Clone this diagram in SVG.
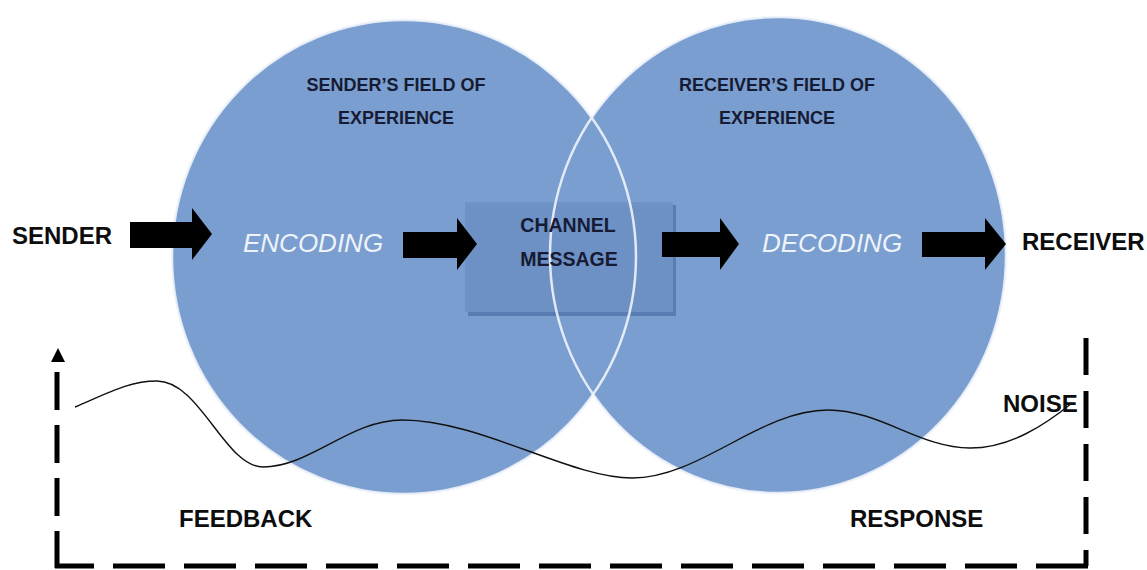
<svg xmlns="http://www.w3.org/2000/svg" width="1147" height="570" viewBox="0 0 1147 570">
<style>
.field{fill:#7a9ecf}
.rim{fill:none;stroke:#eef3fb;stroke-width:2.5;opacity:.9}
.title{font-family:"Liberation Sans",Arial,sans-serif;font-weight:bold;font-size:18px;fill:#161b33;text-anchor:middle}
.box{font-family:"Liberation Sans",Arial,sans-serif;font-weight:bold;font-size:19.5px;fill:#161b33;text-anchor:middle}
.lbl{font-family:"Liberation Sans",Arial,sans-serif;font-weight:bold;font-size:24px;fill:#0d0d0d}
.proc{font-family:"Liberation Sans",Arial,sans-serif;font-style:italic;font-size:26px;fill:#eef3fa}
.blk{fill:#000}
.dash{fill:none;stroke:#000;stroke-width:5}
.noise{fill:none;stroke:#111;stroke-width:1.4}
</style>
<rect width="1147" height="570" fill="#fff"/>
<g id="sender-field">
  <ellipse class="field" cx="404" cy="257" rx="232" ry="237"/>
</g>
<g id="receiver-field">
  <ellipse class="field" cx="778" cy="255" rx="228" ry="238"/>
</g>
<g id="channel-message">
  <rect x="468" y="205" width="208" height="111" fill="#5a7cb2"/>
  <rect x="465" y="202" width="208" height="110" fill="#6f93c7" opacity="0.92"/>
</g>
<g id="field-rims">
  <ellipse class="rim" cx="404" cy="257" rx="232" ry="237"/>
  <ellipse class="rim" cx="778" cy="255" rx="228" ry="238"/>
</g>
<g id="sender-field-label">
  <text class="title" x="396" y="91">SENDER’S FIELD OF</text>
  <text class="title" x="396" y="124">EXPERIENCE</text>
</g>
<g id="receiver-field-label">
  <text class="title" x="777" y="91">RECEIVER’S FIELD OF</text>
  <text class="title" x="777" y="124">EXPERIENCE</text>
</g>
<g id="channel-label">
  <text class="box" x="568" y="232">CHANNEL</text>
  <text class="box" x="569" y="266">MESSAGE</text>
</g>
<g id="sender"><text class="lbl" x="12" y="244">SENDER</text></g>
<g id="encoding"><text class="proc" x="243" y="252">ENCODING</text></g>
<g id="decoding"><text class="proc" x="762" y="252">DECODING</text></g>
<g id="receiver"><text class="lbl" x="1022" y="250">RECEIVER</text></g>
<g id="noise"><text class="lbl" x="1003" y="412">NOISE</text></g>
<g id="feedback"><text class="lbl" x="179" y="527">FEEDBACK</text></g>
<g id="response"><text class="lbl" x="850" y="527">RESPONSE</text></g>
<g id="connectors">
  <polygon class="blk" points="130,222 192,222 192,208 212,234 192,260 192,248 130,248"/>
  <polygon class="blk" points="403,232 457,232 457,218 477,244 457,270 457,258 403,258"/>
  <polygon class="blk" points="662,232 720,232 720,218 739,244 720,270 720,257 662,257"/>
  <polygon class="blk" points="922,232 985,232 985,218 1006,244 985,270 985,257 922,257"/>
  <path class="noise" d="M75,407 C110,392 130,381 157,381 C200,381 225,467 263,467 C310,467 350,420 402,420 C480,420 570,478 632,478 C700,478 760,410 828,410 C880,410 920,448 970,448 C1010,448 1045,425 1072,403"/>
  <path class="dash" d="M1086,338 V566" stroke-dasharray="37 16"/>
  <path class="dash" d="M1088,566 H55" stroke-dasharray="52 19" stroke-dashoffset="0"/>
  <path class="dash" d="M57,372 V568" stroke-dasharray="38 15"/>
  <polygon class="blk" points="58,348 51,362 65,362"/>
</g>
</svg>
